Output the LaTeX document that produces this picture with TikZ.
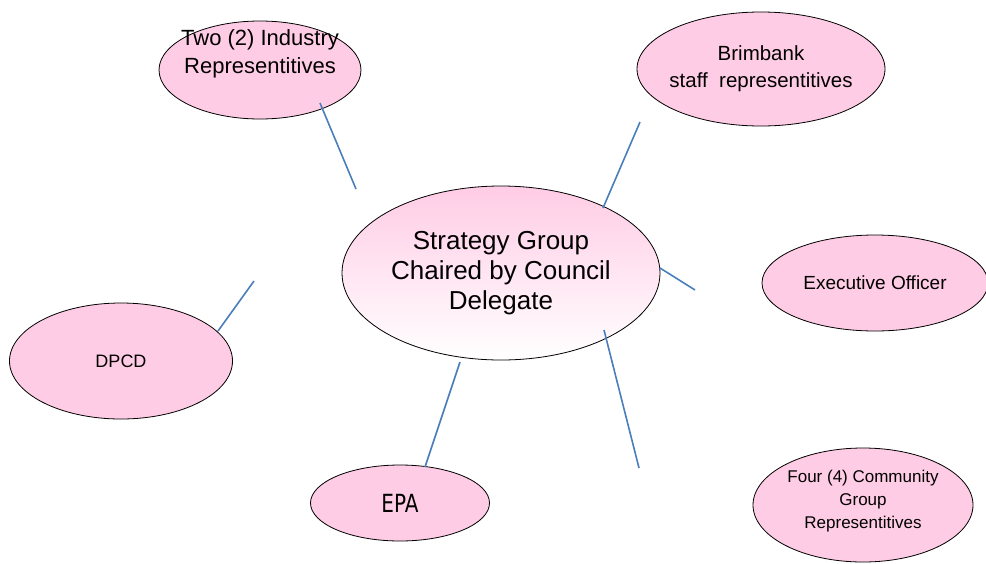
\documentclass[tikz,border=0pt]{standalone}
\usepackage{fontspec}
\setmainfont{Liberation Sans}
\newfontfamily\epafont[FakeStretch=0.8]{DejaVu Sans}
\usetikzlibrary{shapes,positioning}
\definecolor{memberpink}{RGB}{255,204,229}
\definecolor{linkblue}{RGB}{74,126,187}

\begin{document}
\begin{tikzpicture}[x=1pt,y=-1pt]
  \useasboundingbox (0,0) rectangle (986,563);
  \tikzstyle{member}=[ellipse, draw=black, line width=0.8pt, fill=memberpink, inner sep=-30pt, align=center]
  \tikzstyle{link}=[linkblue, line width=1.6pt]

  % Grupo central
  \node[member, top color=memberpink, bottom color=white, minimum width=318pt, minimum height=174pt,
        font=\fontsize{26}{30}\selectfont] (chair) at (501,273) {Strategy Group\\Chaired by Council\\Delegate\\[-24pt]\mbox{}};

  % Miembros
  \node[member, minimum width=202pt, minimum height=98pt, font=\fontsize{22}{28}\selectfont] (ind) at (260,70)
    {Two (2) Industry\\Representitives\\[8pt]\mbox{}};
  \node[member, minimum width=248pt, minimum height=114pt, font=\fontsize{20.5}{27}\selectfont] (staff) at (761,69)
    {Brimbank\\staff~ representitives};
  \node[member, minimum width=226pt, minimum height=96pt, font=\fontsize{19}{20}\selectfont] (exec) at (875,283)
    {Executive Officer};
  \node[member, minimum width=223pt, minimum height=116pt, font=\fontsize{18}{20}\selectfont] (dpcd) at (121,361)
    {DPCD};
  \node[member, minimum width=179pt, minimum height=76pt, font=\epafont\fontsize{25}{30}\selectfont] (epa) at (400,503)
    {EPA};
  \node[member, minimum width=220pt, minimum height=114pt, font=\fontsize{17}{23}\selectfont] (comm) at (863,505)
    {Four (4) Community\\Group\\Representitives\\[-11pt]\mbox{}};

  % Extremos de las lineas
  \coordinate (i1) at (320,103);  \coordinate (i2) at (356,189);
  \coordinate (s1) at (640,122);  \coordinate (s2) at (603,208);
  \coordinate (x1) at (660,268);  \coordinate (x2) at (695,290);
  \coordinate (d1) at (254,281);  \coordinate (d2) at (218,331);
  \coordinate (e1) at (460,362);  \coordinate (e2) at (425,467);
  \coordinate (c1) at (604,330);  \coordinate (c2) at (639,468);

  \draw[link] (i1) -- (i2);
  \draw[link] (s1) -- (s2);
  \draw[link] (x1) -- (x2);
  \draw[link] (d1) -- (d2);
  \draw[link] (e1) -- (e2);
  \draw[link] (c1) -- (c2);
\end{tikzpicture}
\end{document}
